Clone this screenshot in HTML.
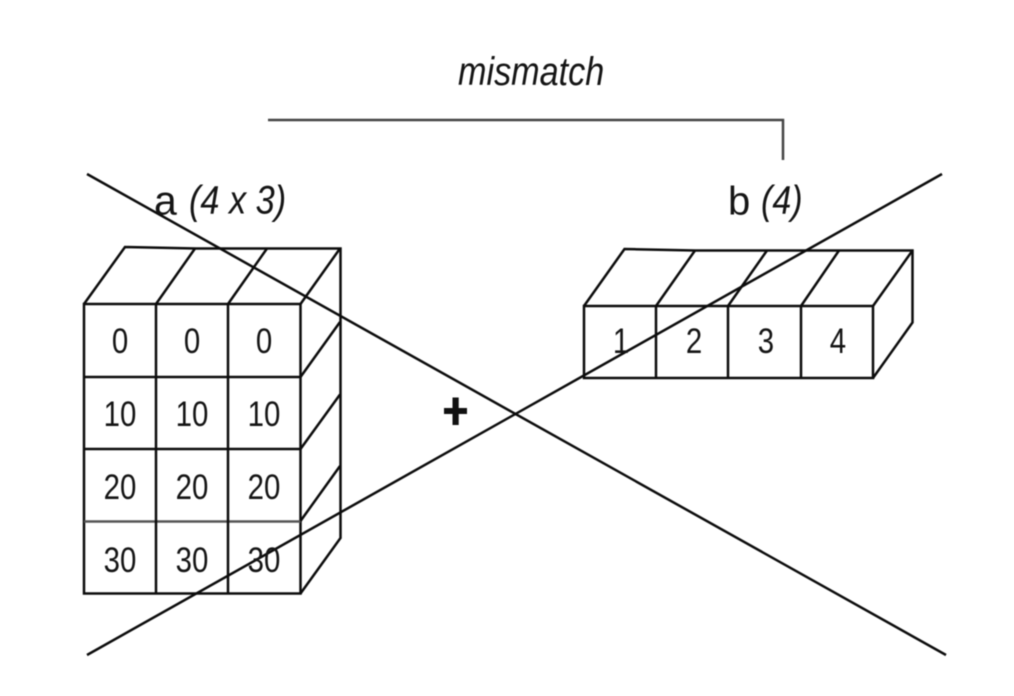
<!DOCTYPE html>
<html>
<head>
<meta charset="utf-8">
<style>
html,body{margin:0;padding:0;background:#fff;}
svg{display:block;filter:blur(0.45px);}
text{font-family:"Liberation Sans",sans-serif;fill:#151515;}
</style>
</head>
<body>
<svg width="1014" height="696" viewBox="0 0 1014 696" xmlns="http://www.w3.org/2000/svg">
<rect width="1014" height="696" fill="#fff"/>
<g fill="none" stroke="#0c0c0c" stroke-width="2.5">
<!-- left box -->
<path d="M84 304H300.500V593.500H84Z"/>
<path d="M84 377H300.500M84 449H300.500"/>
<path d="M84 521.500H300.500" stroke="#555"/>
<path d="M156 304V593.500M228 304V593.500"/>
<path d="M84 304L125 247L196 248.500H340.500V538L300.500 593.500"/>
<path d="M156 304L195 248.500M228 304L267 248.500M300.500 304L340 248.500"/>
<path d="M300.500 377L340 322M300.500 449L340 394.500M300.500 521L340 466"/>
<!-- right box -->
<path d="M584 306H873V378H584Z"/>
<path d="M656 306V378M728 306V378M801 306V378"/>
<path d="M584 306L624.500 249L695 250.500H912.500V322.500L873 378"/>
<path d="M656 306L695 250.500M728 306L767 250.500M801 306L839 250.500M873 306L912.500 250.500"/>
<!-- bracket -->
<path d="M268 120H783V160" stroke="#444"/>
<!-- cross -->
<path d="M87 174L946 655"/>
<path d="M87 655L942 174"/>
</g>
<g font-size="35" text-anchor="middle" transform="scale(.84,1)">
<text x="142.900" y="353">0</text><text x="228.600" y="353">0</text><text x="314.300" y="353">0</text>
<text x="142.900" y="426">10</text><text x="228.600" y="426">10</text><text x="314.300" y="426">10</text>
<text x="142.900" y="499">20</text><text x="228.600" y="499">20</text><text x="314.300" y="499">20</text>
<text x="142.900" y="572">30</text><text x="228.600" y="572">30</text><text x="314.300" y="572">30</text>
<text x="739.300" y="353">1</text><text x="826.200" y="353">2</text><text x="911.900" y="353">3</text><text x="997.600" y="353">4</text>
</g>
<text x="154" y="214.500" font-size="41">a</text>
<text transform="translate(189,213.500) scale(.857,1)" font-size="40" font-style="italic">(4 x 3)</text>
<text x="728" y="214.500" font-size="40">b</text>
<text transform="translate(761,213.500) scale(.85,1)" font-size="40" font-style="italic">(4)</text>
<text transform="translate(458,85) scale(.855,1)" font-size="40" font-style="italic">mismatch</text>
<path d="M452.500 397.500h6.200v10.500h8.300v6h-8.300v11h-6.200v-11h-8.500v-6h8.500z" fill="#111"/>
</svg>
</body>
</html>
